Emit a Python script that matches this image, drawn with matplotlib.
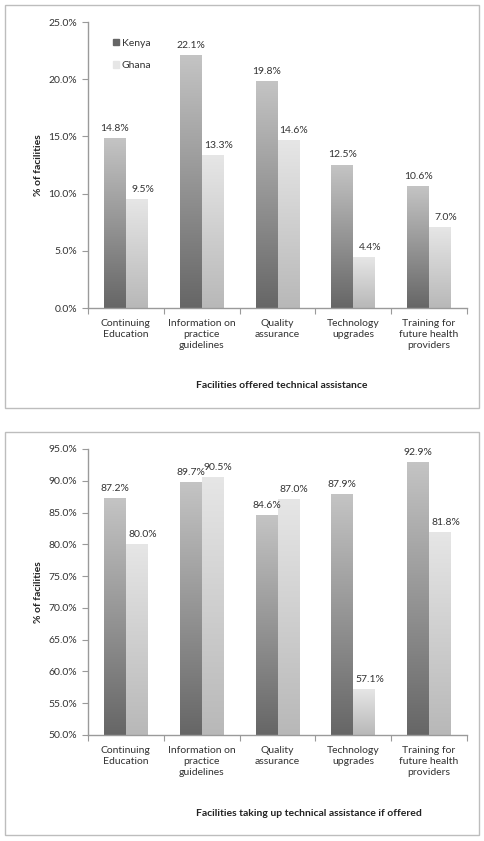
import numpy as np
import matplotlib
matplotlib.use("Agg")
import matplotlib.pyplot as plt
from matplotlib.patches import Rectangle
from matplotlib.ticker import FuncFormatter, MultipleLocator

plt.rcParams['font.family'] = ['Lato', 'DejaVu Sans']

# --- data ---
categories = ["Continuing\nEducation", "Information on\npractice\nguidelines",
              "Quality\nassurance", "Technology\nupgrades",
              "Training for\nfuture health\nproviders"]
offered_kenya = [14.8, 22.1, 19.8, 12.5, 10.6]
offered_ghana = [9.5, 13.3, 14.6, 4.4, 7.0]
uptake_kenya = [87.2, 89.7, 84.6, 87.9, 92.9]
uptake_ghana = [80.0, 90.5, 87.0, 57.1, 81.8]
series_names = ["Kenya", "Ghana"]

W, H = 484, 841
fig = plt.figure(figsize=(W / 100, H / 100), dpi=100)

# grey gradients (bottom -> top)
kenya_grad = ("#666666", "#c4c4c4")
ghana_grad = ("#b8b8b8", "#e6e6e6")
spine_col = "#9a9a9a"
txt_col = "#333333"


def px_box(x0, y0, x1, y1):
    return [x0 / W, 1 - y1 / H, (x1 - x0) / W, (y1 - y0) / H]


def grad_bar(ax, patch, cols):
    x, y0 = patch.get_x(), patch.get_y()
    w, h = patch.get_width(), patch.get_height()
    cmap = matplotlib.colors.LinearSegmentedColormap.from_list("g", cols)
    grad = np.linspace(0, 1, 256).reshape(-1, 1)
    ax.imshow(grad, cmap=cmap, origin="lower", aspect="auto",
              extent=[x, x + w, y0, y0 + h], zorder=2)


def panel(box, frame, kenya, ghana, ymin, ymax, xlabel, xlabel_x, legend=False):
    fig.patches.append(Rectangle((frame[0] / W, 1 - frame[3] / H),
                                 (frame[2] - frame[0]) / W, (frame[3] - frame[1]) / H,
                                 transform=fig.transFigure, fill=False,
                                 edgecolor="#bdbdbd", linewidth=1.0))
    ax = fig.add_axes(px_box(*box))
    x = np.arange(len(categories))
    bw = 0.29
    bk = ax.bar(x - bw / 2, np.array(kenya) - ymin, bw, bottom=ymin,
                color="none", label=series_names[0])
    bg = ax.bar(x + bw / 2, np.array(ghana) - ymin, bw, bottom=ymin,
                color="none", label=series_names[1])
    for p in bk:
        grad_bar(ax, p, kenya_grad)
    for p in bg:
        grad_bar(ax, p, ghana_grad)
    for xi, v in zip(x - bw / 2, kenya):
        ax.annotate(f"{v:.1f}%", (xi, v), xytext=(0, 4), textcoords="offset points",
                    ha="center", va="bottom", fontsize=7.5, color=txt_col)
    for xi, v in zip(x + bw / 2, ghana):
        ax.annotate(f"{v:.1f}%", (xi, v), xytext=(4, 4), textcoords="offset points",
                    ha="center", va="bottom", fontsize=7.5, color=txt_col)

    ax.set_xlim(-0.5, len(categories) - 0.5)
    ax.set_ylim(ymin, ymax)
    ax.yaxis.set_major_locator(MultipleLocator(5))
    ax.yaxis.set_major_formatter(FuncFormatter(lambda v, p: f"{v:.1f}%"))
    ax.set_xticks(np.arange(len(categories) + 1) - 0.5)
    ax.set_xticklabels([])
    ax.set_xticks(x, minor=True)
    ax.set_xticklabels(categories, minor=True, fontsize=7.5, color=txt_col,
                       linespacing=1.25, va="top")
    ax.tick_params(axis="x", which="minor", length=0, pad=8)
    ax.tick_params(axis="x", which="major", length=4, color=spine_col)
    ax.tick_params(axis="y", length=4, color=spine_col, labelsize=7.5,
                   labelcolor=txt_col, pad=4)
    for s in ("top", "right"):
        ax.spines[s].set_visible(False)
    for s in ("left", "bottom"):
        ax.spines[s].set_color(spine_col)
        ax.spines[s].set_linewidth(1.0)
    ax.set_ylabel("% of facilities", fontsize=7.5, fontweight="bold",
                  color="#222222", labelpad=4)
    fig.text(xlabel_x / W, 1 - (box[3] + 78) / H, xlabel, fontsize=7.5,
             fontweight="bold", color="#222222", ha="center", va="center")
    if legend:
        handles = [Rectangle((0, 0), 1, 1, color=kenya_grad[0]),
                   Rectangle((0, 0), 1, 1, color=ghana_grad[1])]
        ax.legend(handles, series_names, loc="upper left", bbox_to_anchor=(0.04, 0.975),
                  frameon=False, fontsize=7.5, handlelength=0.6, handleheight=0.6,
                  handletextpad=0.3, labelspacing=1.3, labelcolor=txt_col)
    return ax


panel((88, 22, 467, 308), (5, 5, 479, 408), offered_kenya, offered_ghana, 0, 25,
      "Facilities offered technical assistance", 282, legend=True)
panel((88, 449, 467, 735), (5, 432, 479, 835), uptake_kenya, uptake_ghana, 50, 95,
      "Facilities taking up technical assistance if offered", 309)

fig.savefig("out.png", dpi=100)
